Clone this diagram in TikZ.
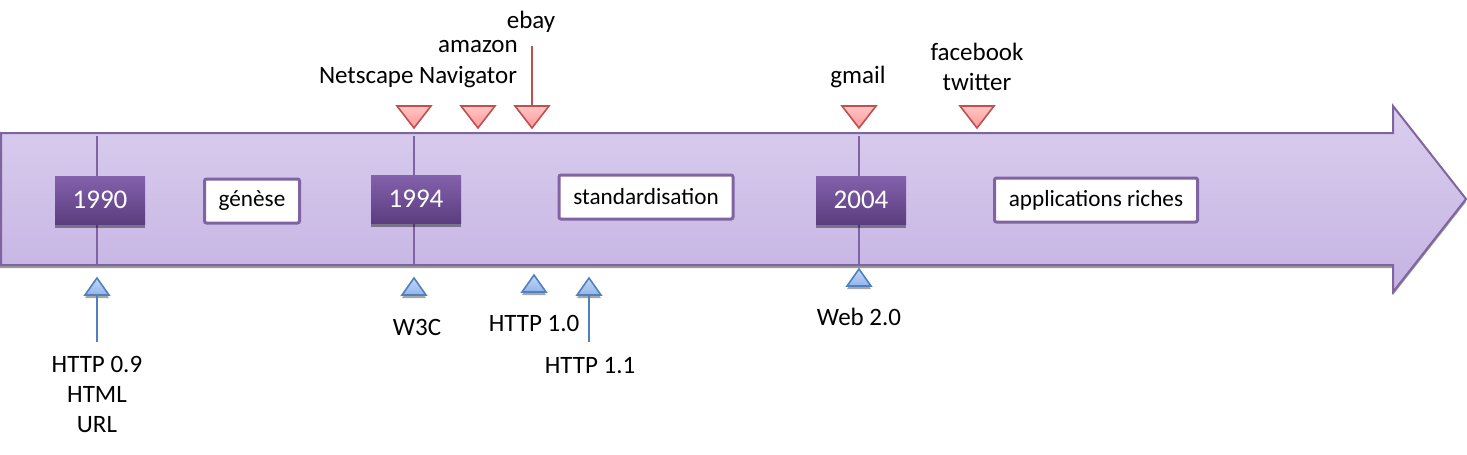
\documentclass[tikz,border=0pt]{standalone}
\usepackage{fontspec}
\setmainfont{Carlito}
\usetikzlibrary{shadows}
\definecolor{purpleline}{HTML}{8064A2}
\definecolor{bodytop}{HTML}{DACEEE}
\definecolor{bodybottom}{HTML}{C5B3E3}
\definecolor{yeartop}{HTML}{8361AC}
\definecolor{yearbottom}{HTML}{5B3E7F}
\definecolor{redline}{HTML}{C0504D}
\definecolor{redtop}{HTML}{FFC4C4}
\definecolor{redbottom}{HTML}{FF9A9A}
\definecolor{blueline}{HTML}{4F81BD}
\definecolor{bluetop}{HTML}{C4D8F8}
\definecolor{bluebottom}{HTML}{92B4EB}
\tikzset{
  yearbox/.style={minimum width=45pt,minimum height=24pt,inner sep=0pt,text=white,
    font=\fontsize{13.5}{16}\selectfont,
    top color=yeartop,bottom color=yearbottom,
    drop shadow={shadow xshift=0pt,shadow yshift=-2pt,fill=black,opacity=0.4}},
  phasebox/.style={draw=purpleline,line width=1.5pt,fill=white,rounded corners=1pt,
    minimum height=22pt,inner sep=0pt,font=\fontsize{11.6}{14}\selectfont},
  eventdown/.style={draw=redline,line width=0.8pt,top color=redtop,bottom color=redbottom},
  eventup/.style={draw=blueline,line width=0.8pt,top color=bluetop,bottom color=bluebottom,
    drop shadow={shadow xshift=0pt,shadow yshift=-1.5pt,fill=black,opacity=0.35}},
}
\begin{document}
\begin{tikzpicture}[x=0.5pt,y=-0.5pt,font=\fontsize{12.5}{15}\selectfont]
\useasboundingbox (0,0) rectangle (1467,455);
% timeline arrow
\fill[black!40,yshift=-1.5pt] (0,133) -- (1393,133) -- (1393,106) -- (1466,199) -- (1393,292) -- (1393,265) -- (0,265) -- cycle;
\draw[purpleline,line width=1pt,top color=bodytop,bottom color=bodybottom]
  (1,133) -- (1393,133) -- (1393,106) -- (1466,199) -- (1393,292) -- (1393,265) -- (1,265) -- cycle;
\foreach \x/\n in {97/1990,414/1994,859/2004}
  \draw[purpleline,line width=1pt] (\x,136) coordinate (top\n) -- (\x,264) coordinate (bot\n);
% years and phases
\node[yearbox] (y1990) at (100,200) {1990};
\node[yearbox] (y1994) at (416,199) {1994};
\node[yearbox] (y2004) at (861,200) {2004};
\node[phasebox,minimum width=47.5pt] (genese) at (252,201) {génèse};
\node[phasebox,minimum width=87pt] (standard) at (646,197) {standardisation};
\node[phasebox,minimum width=101.5pt] (riches) at (1096,200) {applications riches};
% events above
\foreach \x/\n in {414/ns,478/amz,532/eb,859/gm,977/fb}
  \draw[eventdown] (\x,106) coordinate (\n) -- ++(17,0) -- (\x,128) -- ++(-17,-22) -- cycle;
\node (lns) at (418,77) {Netscape Navigator};
\node (lamz) at (478,47) {amazon};
\node (leb) at (531,22) {ebay};
\node (lgm) at (858,77) {gmail};
\node[align=center] (lfb) at (977,67) {facebook\\twitter};
\coordinate (ebstart) at (532,46);
\draw[redline,line width=1pt] (ebstart) -- (eb);
% events below
\foreach \x/\t/\n in {97/278/http,414/278/w3c,534/275/hta,589/278/htb,859/269/web}
  \draw[eventup] (\x,\t) coordinate (\n) -- ++(12,17) -- ++(-24,0) -- cycle;
\coordinate (httpbase) at (97,295);
\coordinate (htbbase) at (589,295);
\coordinate (httpend) at (97,342);
\coordinate (htbend) at (589,342);
\draw[blueline,line width=1pt] (httpbase) -- (httpend);
\draw[blueline,line width=1pt] (htbbase) -- (htbend);
\node[align=center] (lhttp) at (97,394) {HTTP 0.9\\HTML\\URL};
\node (lw3c) at (417,327) {W3C};
\node (lhta) at (534,323) {HTTP 1.0};
\node (lhtb) at (590,366) {HTTP 1.1};
\node (lweb) at (859,317) {Web 2.0};
\end{tikzpicture}
\end{document}
